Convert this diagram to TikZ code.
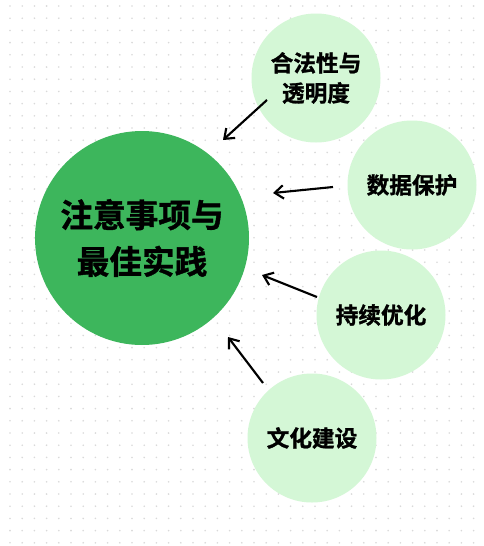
\documentclass[tikz,border=0pt]{standalone}
\usepackage{fontspec}
\setmainfont{Noto Sans CJK SC}[BoldFont={Noto Sans CJK SC Bold}, BoldFeatures={FakeBold=1.2}]
\definecolor{maingreen}{HTML}{3DB65C}
\definecolor{palegreen}{HTML}{D4F7D6}
\definecolor{dotgray}{HTML}{D9D9D9}
\usetikzlibrary{arrows.meta}

\tikzset{
  bigbubble/.style={circle, fill=maingreen, minimum size=214*0.75pt, inner sep=0pt,
    align=center, font=\bfseries\fontsize{24.5}{35}\selectfont},
  smallbubble/.style={circle, fill=palegreen, minimum size=129*0.75pt, inner sep=0pt,
    align=center, font=\bfseries\fontsize{17}{22.5}\selectfont},
  arr/.style={-{Straight Barb[length=6.5pt,width=10pt]}, line width=1.6pt, black}
}

\begin{document}
\begin{tikzpicture}[x=0.75pt,y=-0.75pt]
\useasboundingbox (0,0) rectangle (483,546);
\fill[white] (0,0) rectangle (483,546);
% dotted paper
\foreach \i in {0,...,39}
  \foreach \j in {0,...,44}
    \fill[dotgray] (10+12.2*\i, 6+12.2*\j) circle (0.9);

% bubbles
\node[bigbubble] (main) at (142,238) {注意事项与\\最佳实践};
\node[smallbubble] (legal) at (316,78) {合法性与\\透明度};
\node[smallbubble] (data) at (412,185) {数据保护};
\node[smallbubble] (optim) at (381,315) {持续优化};
\node[smallbubble] (culture) at (312,438) {文化建设};

% arrow ends
\coordinate (legalout) at (267,100);
\coordinate (legalin) at (223,140);
\coordinate (dataout) at (333,187);
\coordinate (datain) at (273,193);
\coordinate (optimout) at (317,297);
\coordinate (optimin) at (262,275);
\coordinate (cultureout) at (263,383);
\coordinate (culturein) at (228,337);

\draw[arr] (legalout) -- (legalin);
\draw[arr] (dataout) -- (datain);
\draw[arr] (optimout) -- (optimin);
\draw[arr] (cultureout) -- (culturein);
\end{tikzpicture}
\end{document}
